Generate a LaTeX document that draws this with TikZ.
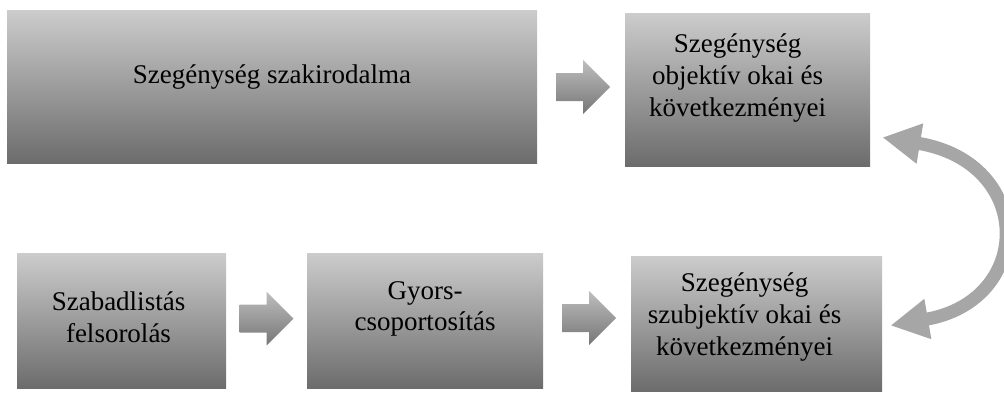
\documentclass[tikz,border=0pt]{standalone}
\usepackage{fontspec}
\setmainfont{Liberation Serif}
\usetikzlibrary{calc,arrows.meta}

\definecolor{boxtop}{RGB}{204,204,204}
\definecolor{boxbottom}{RGB}{108,108,108}
\definecolor{arrowtop}{RGB}{190,190,190}
\definecolor{arrowbottom}{RGB}{118,118,118}
\definecolor{loopgray}{RGB}{166,166,166}

\tikzset{
    stepbox/.style={rectangle, inner sep=0pt, top color=boxtop, bottom color=boxbottom},
    boxtext/.style={align=center, inner sep=0pt, font=\fontsize{13.5}{15.8}\selectfont},
    flowarrow/.pic={
        \shade [top color=arrowtop, bottom color=arrowbottom]
            (-27, -14) -- (0, -14) -- (0, -27) -- (27, 0) -- (0, 27) -- (0, 14) -- (-27, 14) -- cycle;
    },
    looparrow/.style={line width=6.5pt, draw=loopgray,
        {Triangle[length=19pt,width=19pt]}-{Triangle[length=19pt,width=19pt]}}
}

\begin{document}
\begin{tikzpicture}[x=0.5pt, y=-0.5pt]
    \useasboundingbox (0, 0) rectangle (1004, 392);

    \node [stepbox, minimum width=265pt, minimum height=76.5pt] (szak) at (272, 86.5) {};
    \node [stepbox, minimum width=122.5pt, minimum height=76.5pt] (obj) at (747.5, 89.5) {};
    \node [stepbox, minimum width=104.5pt, minimum height=67.5pt] (szabad) at (121.5, 320.5) {};
    \node [stepbox, minimum width=118pt, minimum height=67.5pt] (gyors) at (425, 320.5) {};
    \node [stepbox, minimum width=125.5pt, minimum height=67.5pt] (szubj) at (756.5, 323.5) {};

    \node [boxtext] (szak-t) at ([shift={(0, -9.5)}]szak.center) {Szegénység szakirodalma};
    \node [boxtext] (obj-t) at ([shift={(-10, -11.5)}]obj.center) {Szegénység\\objektív okai és\\következményei};
    \node [boxtext] (szabad-t) at ([shift={(-3, -3.5)}]szabad.center) {Szabadlistás\\felsorolás};
    \node [boxtext] (gyors-t) at ([shift={(0, -11.5)}]gyors.center) {Gyors-\\csoportosítás};
    \node [boxtext] (szubj-t) at ([shift={(-12, -6.5)}]szubj.center) {Szegénység\\szubjektív okai és\\következményei};

    \pic (ar1) at ($(szak.east)!0.5!(obj.west)+(2, -1)$) {flowarrow};
    \pic (ar2) at ($(szabad.east)!0.5!(gyors.west)+(0, -2)$) {flowarrow};
    \pic (ar3) at ($(gyors.east)!0.5!(szubj.west)+(2, -4)$) {flowarrow};

    \draw [looparrow] ([shift={(12, -29)}]obj.south east)
        .. controls +(152, 25) and +(144, -25) .. ([shift={(8, 2)}]szubj.east);
\end{tikzpicture}
\end{document}
